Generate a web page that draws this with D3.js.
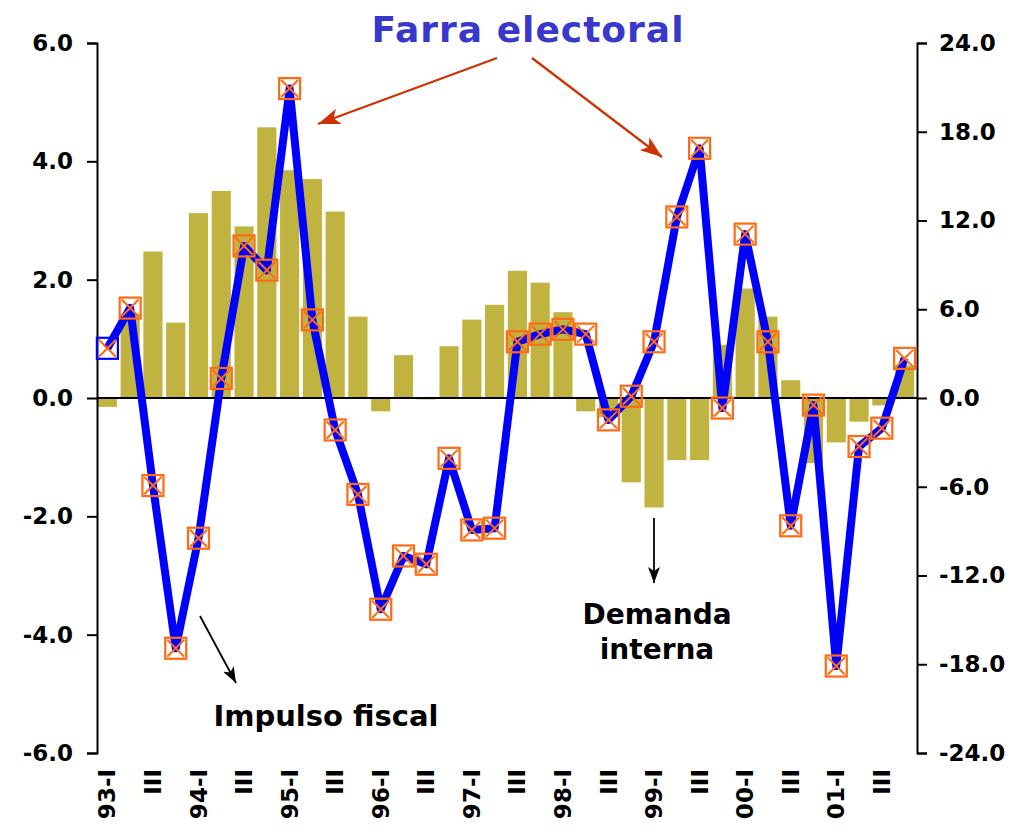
<!DOCTYPE html>
<html><head><meta charset="utf-8">
<script src="https://cdn.jsdelivr.net/npm/d3@7"></script>
<style>body{margin:0;background:#fff}svg{display:block}</style>
</head><body>
<svg id="c" width="1012" height="832"></svg>
<script>
const quarters = ["93-I","93-II","93-III","93-IV","94-I","94-II","94-III","94-IV","95-I","95-II","95-III","95-IV","96-I","96-II","96-III","96-IV","97-I","97-II","97-III","97-IV","98-I","98-II","98-III","98-IV","99-I","99-II","99-III","99-IV","00-I","00-II","00-III","00-IV","01-I","01-II","01-III","01-IV"];
const tickLabels = ["93-I","III","94-I","III","95-I","III","96-I","III","97-I","III","98-I","III","99-I","III","00-I","III","01-I","III"];
// Impulso fiscal (line, left axis)
const impulsoFiscal = [0.84,1.52,-1.48,-4.23,-2.37,0.33,2.57,2.16,5.23,1.32,-0.54,-1.63,-3.57,-2.67,-2.81,-1.02,-2.23,-2.20,0.95,1.08,1.16,1.08,-0.37,0.03,0.95,3.06,4.22,-0.17,2.77,0.95,-2.16,-0.12,-4.53,-0.82,-0.51,0.67];
// Demanda interna (bars, right axis)
const demandaInterna = [-0.6,5.7,9.9,5.1,12.5,14.0,11.6,18.3,15.4,14.8,12.6,5.5,-0.9,2.9,-0.1,3.5,5.3,6.3,8.6,7.8,5.8,-0.9,-1.3,-5.7,-7.4,-4.2,-4.2,3.6,7.4,5.5,1.2,-4.4,-3.0,-1.6,-0.5,2.2];
const leftTicks = [-6,-4,-2,0,2,4,6];
const rightTicks = [-24,-18,-12,-6,0,6,12,18,24];

const svg = d3.select("#c");
const X0 = 97, X1 = 917, YT = 43, YB = 753;
const x = d3.scaleBand().domain(quarters).range([X0 - 1, X1 - 1]).paddingInner(0.16).paddingOuter(0.08);
const yL = d3.scaleLinear().domain([-6,6]).range([YB, YT]);
const yR = d3.scaleLinear().domain([-24,24]).range([YB, YT]);
const cx = d => x(d) + x.bandwidth()/2;
const fmt = d => d.toFixed(1);

// bars
svg.append("g").selectAll("rect").data(demandaInterna).join("rect")
  .attr("x", (d,i) => x(quarters[i]))
  .attr("width", x.bandwidth())
  .attr("y", d => Math.min(yR(d), yR(0)))
  .attr("height", d => Math.abs(yR(d) - yR(0)))
  .attr("fill", "#C0B33F");

// zero line
svg.append("line").attr("x1", X0).attr("x2", X1).attr("y1", yL(0)).attr("y2", yL(0))
  .attr("stroke", "#000").attr("stroke-width", 2);

// axes
const font = "'DejaVu Sans', Verdana, sans-serif";
const gl = svg.append("g").attr("transform", `translate(${X0},0)`)
  .call(d3.axisLeft(yL).tickValues(leftTicks).tickFormat(fmt).tickSizeOuter(10).tickSizeInner(10).tickPadding(14));
const gr = svg.append("g").attr("transform", `translate(${X1},0)`)
  .call(d3.axisRight(yR).tickValues(rightTicks).tickFormat(fmt).tickSizeOuter(10).tickSizeInner(10).tickPadding(12));
[gl, gr].forEach(g => {
  g.selectAll("path,line").attr("stroke", "#000").attr("stroke-width", 2);
  g.selectAll("text").attr("font-family", font).attr("font-weight", "bold").attr("font-size", 23).attr("fill", "#000");
});

// x labels
svg.append("g").selectAll("text").data(tickLabels).join("text")
  .attr("transform", (d,i) => `translate(${cx(quarters[i*2]) + 8},769) rotate(-90)`)
  .attr("text-anchor", "end")
  .attr("font-family", font).attr("font-weight", "bold").attr("font-size", 23)
  .text(d => d);

// line
const line = d3.line().x((d,i) => cx(quarters[i])).y(d => yL(d));
svg.append("path").datum(impulsoFiscal).attr("d", line)
  .attr("fill", "none").attr("stroke", "#0000FF").attr("stroke-width", 8).attr("stroke-linejoin", "round");

// markers
const mk = svg.append("g").selectAll("g").data(impulsoFiscal).join("g")
  .attr("transform", (d,i) => `translate(${cx(quarters[i])},${yL(d)})`);
const s = 10.5;
mk.append("rect").attr("x", -s).attr("y", -s).attr("width", 2*s).attr("height", 2*s)
  .attr("fill", "none").attr("stroke", (d,i) => i === 0 ? "#0000FF" : "#FF6A13").attr("stroke-width", 2.2);
mk.append("path").attr("d", `M${-s+2},${-s+2}L${s-2},${s-2}M${s-2},${-s+2}L${-s+2},${s-2}`)
  .attr("stroke", "#FF6A13").attr("stroke-width", 2);

// annotations
const defs = svg.append("defs");
function marker(id, color, w, h) {
  defs.append("marker").attr("id", id).attr("viewBox", `0 0 ${w} ${h}`).attr("refX", w).attr("refY", h/2)
    .attr("markerWidth", w).attr("markerHeight", h).attr("markerUnits", "userSpaceOnUse").attr("orient", "auto")
    .append("path").attr("d", `M0,0L${w},${h/2}L0,${h}L${w*0.25},${h/2}Z`).attr("fill", color);
}
marker("ar", "#CC3300", 22, 16);
marker("ab", "#000", 16, 12);
function arrow(x1,y1,x2,y2,color,id,w){
  svg.append("line").attr("x1",x1).attr("y1",y1).attr("x2",x2).attr("y2",y2)
    .attr("stroke",color).attr("stroke-width",w).attr("marker-end",`url(#${id})`);
}
arrow(497,58,318,124,"#CC3300","ar",2.2);
arrow(532,58,662,157,"#CC3300","ar",2.2);
arrow(200,616,236,683,"#000","ab",1.8);
arrow(654,518,654,583,"#000","ab",1.8);

svg.append("text").attr("x", 528).attr("y", 42).attr("text-anchor", "middle")
  .attr("font-family", font).attr("font-weight", "bold").attr("font-size", 36).attr("fill", "#3838CC")
  .attr("letter-spacing", 1)
  .text("Farra electoral");
svg.append("text").attr("x", 326).attr("y", 726).attr("text-anchor", "middle")
  .attr("font-family", font).attr("font-weight", "bold").attr("font-size", 29).attr("fill", "#000")
  .text("Impulso fiscal");
svg.append("text").attr("x", 657).attr("y", 624).attr("text-anchor", "middle")
  .attr("font-family", font).attr("font-weight", "bold").attr("font-size", 28).attr("fill", "#000")
  .text("Demanda");
svg.append("text").attr("x", 657).attr("y", 659).attr("text-anchor", "middle")
  .attr("font-family", font).attr("font-weight", "bold").attr("font-size", 28).attr("fill", "#000")
  .text("interna");
</script>
</body></html>
